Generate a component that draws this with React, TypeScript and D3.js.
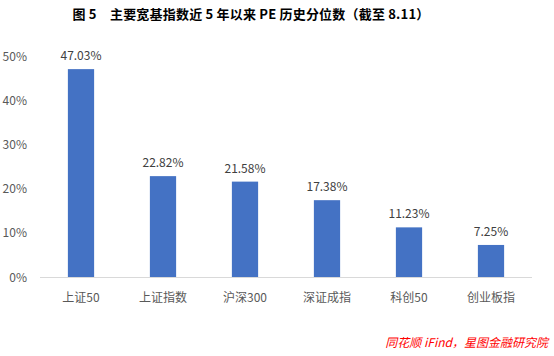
import React from "react";
import * as d3 from "d3";

const categories = ["上证50", "上证指数", "沪深300", "深证成指", "科创50", "创业板指"];
const values = [47.03, 22.82, 21.58, 17.38, 11.23, 7.25];
const yTicks = [0, 10, 20, 30, 40, 50];
const title = "图 5　主要宽基指数近 5 年以来 PE 历史分位数（截至 8.11）";
const source = "同花顺 iFind，星图金融研究院";

export default function App() {
  const W = 554, H = 356;
  const left = 40, right = 532, top = 56, bottom = 277;
  const x = d3.scaleBand().domain(categories).range([left, right]).paddingInner(0.68).paddingOuter(0.34);
  const y = d3.scaleLinear().domain([0, 50]).range([bottom, top]);
  const font = "'Microsoft YaHei', 'Noto Sans CJK SC', sans-serif";
  return (
    <svg width={W} height={H} style={{ position: "absolute", left: 0, top: 0 }} fontFamily={font}>
      <rect width={W} height={H} fill="#fff" />
      <text x={251} y={19} textAnchor="middle" fontSize={13} fontWeight="bold" letterSpacing={0.2} fill="#000">{title}</text>
      {yTicks.map(t => (
        <text key={t} x={27} y={y(t) + 4.5} textAnchor="end" fontSize={12} fill="#595959">{t}%</text>
      ))}
      <line x1={left} x2={right} y1={bottom + 0.5} y2={bottom + 0.5} stroke="#d9d9d9" strokeWidth={1} />
      {categories.map((c, i) => (
        <g key={c}>
          <rect x={x(c)} y={y(values[i])} width={x.bandwidth()} height={bottom - y(values[i])} fill="#4472c4" />
          <text x={x(c)! + x.bandwidth() / 2} y={y(values[i]) - 9} textAnchor="middle" fontSize={12} fill="#404040">{values[i].toFixed(2)}%</text>
          <text x={x(c)! + x.bandwidth() / 2} y={302} textAnchor="middle" fontSize={12} fill="#595959">{c}</text>
        </g>
      ))}
      <text x={548} y={347} textAnchor="end" fontSize={12} fontStyle="italic" fill="#ff0000">{source}</text>
    </svg>
  );
}
